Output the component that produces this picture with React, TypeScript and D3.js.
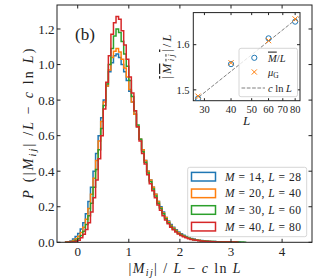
import * as d3 from "d3";

/* ------------------------------------------------------------------ */
/*  Data                                                               */
/* ------------------------------------------------------------------ */

// histogram bins: edges start at BIN_START, width BIN_WIDTH
const BIN_START = -0.25;
const BIN_WIDTH = 0.05;

const histM14L28 = [
  0, 0.002, 0.008, 0.018, 0.032, 0.05, 0.075, 0.11, 0.16, 0.23, 0.31, 0.4,
  0.5, 0.6, 0.7, 0.8, 0.88, 0.96, 1.01, 1.05, 1.06, 1.04, 1.0, 0.96, 0.91,
  0.85, 0.79, 0.72, 0.65, 0.58, 0.52, 0.46, 0.4, 0.35, 0.31, 0.27, 0.23, 0.2,
  0.17, 0.14, 0.12, 0.1, 0.085, 0.07, 0.058, 0.048, 0.04, 0.033, 0.027, 0.022,
  0.018, 0.015, 0.012, 0.01, 0.008, 0.007, 0.006, 0.005, 0.004, 0.003, 0.003,
  0.002, 0.002, 0.002, 0.001, 0.001, 0.001, 0.001, 0,
];

const histM20L40 = [
  0, 0.001, 0.004, 0.01, 0.02, 0.034, 0.055, 0.085, 0.13, 0.19, 0.27, 0.36,
  0.46, 0.57, 0.68, 0.79, 0.88, 0.97, 1.04, 1.075, 1.09, 1.07, 1.03, 0.98,
  0.93, 0.86, 0.79, 0.72, 0.65, 0.58, 0.52, 0.46, 0.4, 0.35, 0.31, 0.27, 0.23,
  0.195, 0.165, 0.14, 0.115, 0.095, 0.08, 0.066, 0.054, 0.044, 0.036, 0.029,
  0.024, 0.019, 0.016, 0.013, 0.011, 0.009, 0.007, 0.006, 0.005, 0.004, 0.003,
  0.003, 0.002, 0.002, 0.002, 0.001, 0.001, 0.001, 0.001, 0,
];

const histM30L60 = [
  0, 0, 0.002, 0.005, 0.012, 0.022, 0.038, 0.062, 0.1, 0.15, 0.22, 0.31, 0.41,
  0.52, 0.64, 0.77, 0.89, 1.0, 1.09, 1.16, 1.2, 1.18, 1.13, 1.06, 0.99, 0.91,
  0.82, 0.74, 0.66, 0.58, 0.51, 0.45, 0.39, 0.34, 0.3, 0.26, 0.22, 0.19, 0.16,
  0.133, 0.11, 0.09, 0.075, 0.062, 0.05, 0.041, 0.034, 0.028, 0.023, 0.019,
  0.015, 0.012, 0.01, 0.008, 0.007, 0.006, 0.005, 0.004, 0.004, 0.003, 0.003,
  0.002, 0.002, 0.002, 0.001, 0.001, 0.001, 0.001, 0.001, 0.001, 0,
];

const histM40L80 = [
  0, 0, 0.001, 0.002, 0.006, 0.012, 0.025, 0.045, 0.072, 0.11, 0.17, 0.25,
  0.35, 0.47, 0.6, 0.75, 0.9, 1.05, 1.17, 1.235, 1.27, 1.255, 1.19, 1.11, 1.03,
  0.93, 0.84, 0.74, 0.65, 0.57, 0.5, 0.44, 0.38, 0.33, 0.29, 0.25, 0.21, 0.18,
  0.15, 0.125, 0.105, 0.085, 0.07, 0.058, 0.047, 0.038, 0.031, 0.025, 0.02,
  0.016, 0.013, 0.011, 0.009, 0.007, 0.006, 0.005, 0.004, 0.003, 0.003, 0.002,
  0.002, 0.002, 0.001, 0.001, 0.001, 0.001, 0.001, 0,
];

const seriesM = [14, 20, 30, 40];
const seriesL = [28, 40, 60, 80];
const seriesHist = [histM14L28, histM20L40, histM30L60, histM40L80];
const seriesColor = ["#1f77b4", "#ff7f0e", "#2ca02c", "#d62728"];

const xTicks = [0, 1, 2, 3, 4];
const yTicks = [0, 0.2, 0.4, 0.6, 0.8, 1.0, 1.2];

/* inset */
const insetL = [28, 40, 60, 80];
const insetMbar = [1.481, 1.557, 1.614, 1.651];
const insetMuG = [1.486, 1.56, 1.609, 1.657];
const fitIntercept = 0.937;
const fitSlope = 0.1638;
const fitRange = [27, 86];
const insetXTicks = [30, 40, 50, 60, 70, 80];
const insetYTicks = [1.5, 1.6];

/* ------------------------------------------------------------------ */
/*  Theme                                                              */
/* ------------------------------------------------------------------ */

const FONT = "'Liberation Serif', 'DejaVu Serif', serif";
const INK = "#222";

const W = 319;
const H = 279;

export default function App() {
  /* main axes */
  const ax = { l: 57, r: 312, t: 5, b: 242.3 };
  const x = d3.scaleLinear().domain([-0.405, 4.585]).range([ax.l, ax.r]);
  const y = d3.scaleLinear().domain([0, 1.335]).range([ax.b, ax.t]);

  const stepLine = d3
    .line<[number, number]>()
    .x((d) => x(d[0]))
    .y((d) => y(d[1]));

  const stepPoints = (vals: number[]) => {
    const pts: [number, number][] = [[BIN_START, 0]];
    vals.forEach((v, i) => {
      pts.push([BIN_START + i * BIN_WIDTH, v]);
      pts.push([BIN_START + (i + 1) * BIN_WIDTH, v]);
    });
    pts.push([BIN_START + vals.length * BIN_WIDTH, 0]);
    return pts;
  };

  /* inset axes */
  const ia = { l: 193.3, r: 300, t: 12.6, b: 100.7 };
  const ix = d3.scaleLog().domain([26.6, 84.3]).range([ia.l, ia.r]);
  const iy = d3.scaleLinear().domain([1.476, 1.671]).range([ia.b, ia.t]);

  const fitLine = d3
    .line<number>()
    .x((L) => ix(L))
    .y((L) => iy(fitIntercept + fitSlope * Math.log(L)));

  const tickLen = 3.5;

  return (
    <div style={{ position: "fixed", left: 0, top: 0 }}>
      <svg width={W} height={H} style={{ display: "block", background: "#fff" }}>
        <defs>
          <clipPath id="mainClip">
            <rect x={ax.l} y={ax.t} width={ax.r - ax.l} height={ax.b - ax.t} />
          </clipPath>
          <clipPath id="insetClip">
            <rect x={ia.l} y={ia.t} width={ia.r - ia.l} height={ia.b - ia.t} />
          </clipPath>
        </defs>

        {/* histograms */}
        <g clipPath="url(#mainClip)">
          {seriesHist.map((vals, i) => (
            <path
              key={i}
              d={stepLine(stepPoints(vals)) ?? ""}
              fill="none"
              stroke={seriesColor[i]}
              strokeWidth={1.5}
              strokeLinejoin="miter"
            />
          ))}
        </g>

        {/* main frame + ticks */}
        <rect
          x={ax.l}
          y={ax.t}
          width={ax.r - ax.l}
          height={ax.b - ax.t}
          fill="none"
          stroke={INK}
          strokeWidth={1}
        />
        {xTicks.map((t) => (
          <g key={`xt${t}`}>
            <line x1={x(t)} x2={x(t)} y1={ax.b} y2={ax.b - tickLen} stroke={INK} />
            <line x1={x(t)} x2={x(t)} y1={ax.t} y2={ax.t + tickLen} stroke={INK} />
            <text
              x={x(t)}
              y={255.5}
              textAnchor="middle"
              fontFamily={FONT}
              fontSize={13}
              fill={INK}
            >
              {t}
            </text>
          </g>
        ))}
        {yTicks.map((t) => (
          <g key={`yt${t}`}>
            <line x1={ax.l} x2={ax.l + tickLen} y1={y(t)} y2={y(t)} stroke={INK} />
            <line x1={ax.r} x2={ax.r - tickLen} y1={y(t)} y2={y(t)} stroke={INK} />
            <text
              x={54.5}
              y={y(t)}
              dy="0.36em"
              textAnchor="end"
              fontFamily={FONT}
              fontSize={13}
              fill={INK}
            >
              {t.toFixed(1)}
            </text>
          </g>
        ))}

        {/* axis labels */}
        <text
          x={(ax.l + ax.r) / 2}
          y={273}
          textAnchor="middle"
          fontFamily={FONT}
          fontSize={14}
          fill={INK}
          textLength={112}
          lengthAdjust="spacing"
        >
          |<tspan fontStyle="italic">M</tspan>
          <tspan fontStyle="italic" fontSize={10} dy={3}>ij</tspan>
          <tspan dy={-3}>| / </tspan>
          <tspan fontStyle="italic">L</tspan> − <tspan fontStyle="italic">c</tspan> ln{" "}
          <tspan fontStyle="italic">L</tspan>
        </text>
        <text
          transform={`translate(33,${(ax.t + ax.b) / 2}) rotate(-90)`}
          textAnchor="middle"
          fontFamily={FONT}
          fontSize={14}
          fill={INK}
          textLength={150}
          lengthAdjust="spacing"
        >
          <tspan fontStyle="italic">P</tspan> (|<tspan fontStyle="italic">M</tspan>
          <tspan fontStyle="italic" fontSize={10} dy={3}>ij</tspan>
          <tspan dy={-3}>| /</tspan>
          <tspan fontStyle="italic">L</tspan> − <tspan fontStyle="italic">c</tspan> ln{" "}
          <tspan fontStyle="italic">L</tspan>)
        </text>

        {/* panel tag */}
        <text x={75} y={39.5} fontFamily={FONT} fontSize={17} fill={INK}>
          (b)
        </text>

        {/* main legend */}
        <rect
          x={187.7}
          y={167.3}
          width={119}
          height={69.4}
          rx={2}
          fill="#fff"
          fillOpacity={0.8}
          stroke="#ccc"
          strokeWidth={0.8}
        />
        {seriesM.map((m, i) => {
          const cy = 176.7 + i * 16.65;
          return (
            <g key={`lg${m}`}>
              <rect
                x={191.5}
                y={cy - 4.3}
                width={24}
                height={8.6}
                fill="none"
                stroke={seriesColor[i]}
                strokeWidth={1.5}
              />
              <text
                x={225}
                y={cy}
                dy="0.36em"
                fontFamily={FONT}
                fontSize={11.5}
                fill={INK}
                textLength={76}
                lengthAdjust="spacing"
              >
                <tspan fontStyle="italic">M</tspan> = {m}, <tspan fontStyle="italic">L</tspan> ={" "}
                {seriesL[i]}
              </text>
            </g>
          );
        })}

        {/* inset */}
        <rect
          x={ia.l}
          y={ia.t}
          width={ia.r - ia.l}
          height={ia.b - ia.t}
          fill="#fff"
          stroke={INK}
          strokeWidth={1}
        />
        <g clipPath="url(#insetClip)">
          <path
            d={fitLine(fitRange) ?? ""}
            fill="none"
            stroke="#7f7f7f"
            strokeWidth={1}
            strokeDasharray="3.7 1.6"
          />
          {insetL.map((L, i) => (
            <circle
              key={`c${L}`}
              cx={ix(L)}
              cy={iy(insetMbar[i])}
              r={2.6}
              fill="none"
              stroke="#1f77b4"
              strokeWidth={1}
            />
          ))}
          {insetL.map((L, i) => {
            const cx = ix(L);
            const cy = iy(insetMuG[i]);
            const s = 2.6;
            return (
              <path
                key={`x${L}`}
                d={`M${cx - s},${cy - s}L${cx + s},${cy + s}M${cx - s},${cy + s}L${cx + s},${cy - s}`}
                stroke="#ff7f0e"
                strokeWidth={1}
              />
            );
          })}
        </g>
        {insetXTicks.map((t) => (
          <g key={`ixt${t}`}>
            <line x1={ix(t)} x2={ix(t)} y1={ia.b} y2={ia.b - 2.5} stroke={INK} />
            <line x1={ix(t)} x2={ix(t)} y1={ia.t} y2={ia.t + 2.5} stroke={INK} />
            <text
              x={ix(t)}
              y={112.5}
              textAnchor="middle"
              fontFamily={FONT}
              fontSize={10.5}
              fill={INK}
            >
              {t}
            </text>
          </g>
        ))}
        {insetYTicks.map((t) => (
          <g key={`iyt${t}`}>
            <line x1={ia.l} x2={ia.l + 3} y1={iy(t)} y2={iy(t)} stroke={INK} />
            <line x1={ia.r} x2={ia.r - 3} y1={iy(t)} y2={iy(t)} stroke={INK} />
            <text
              x={189.5}
              y={iy(t)}
              dy="0.36em"
              textAnchor="end"
              fontFamily={FONT}
              fontSize={10.5}
              fill={INK}
            >
              {t.toFixed(1)}
            </text>
          </g>
        ))}
        <text
          x={(ia.l + ia.r) / 2}
          y={125}
          textAnchor="middle"
          fontFamily={FONT}
          fontSize={13}
          fontStyle="italic"
          fill={INK}
        >
          L
        </text>
        <text
          transform={`translate(171,${(ia.t + ia.b) / 2}) rotate(-90)`}
          textAnchor="middle"
          fontFamily={FONT}
          fontSize={12.5}
          fill={INK}
          textLength={44}
          lengthAdjust="spacing"
        >
          <tspan textDecoration="overline">
            |<tspan fontStyle="italic">M</tspan>
            <tspan fontStyle="italic" fontSize={9} dy={2.5}>ij</tspan>
            <tspan dy={-2.5}>|</tspan>
          </tspan>
          /<tspan fontStyle="italic">L</tspan>
        </text>

        {/* inset legend */}
        <rect
          x={239}
          y={48.3}
          width={58.5}
          height={48.4}
          rx={2}
          fill="#fff"
          fillOpacity={0.8}
          stroke="#ccc"
          strokeWidth={0.8}
        />
        <circle cx={254.3} cy={57.8} r={2.6} fill="none" stroke="#1f77b4" strokeWidth={1} />
        <path
          d={`M${251.7},${69.4}L${256.9},${74.6}M${251.7},${74.6}L${256.9},${69.4}`}
          stroke="#ff7f0e"
          strokeWidth={1}
        />
        <line
          x1={241.5}
          x2={265}
          y1={88}
          y2={88}
          stroke="#7f7f7f"
          strokeWidth={1}
          strokeDasharray="3.7 1.6"
        />
        <text x={268} y={57.8} dy="0.36em" fontFamily={FONT} fontSize={10.5} fill={INK}>
          <tspan fontStyle="italic" textDecoration="overline">M</tspan>/
          <tspan fontStyle="italic">L</tspan>
        </text>
        <text x={268} y={72} dy="0.36em" fontFamily={FONT} fontSize={10.5} fill={INK}>
          <tspan fontStyle="italic">μ</tspan>
          <tspan fontSize={7.5} dy={2}>G</tspan>
        </text>
        <text x={268} y={88} dy="0.36em" fontFamily={FONT} fontSize={10.5} fill={INK}>
          <tspan fontStyle="italic">c</tspan> ln <tspan fontStyle="italic">L</tspan>
        </text>
      </svg>
    </div>
  );
}
